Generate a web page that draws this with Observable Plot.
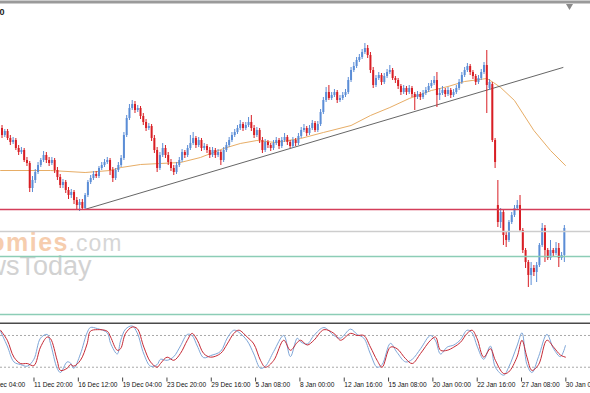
<!DOCTYPE html>
<html><head><meta charset="utf-8">
<script src="https://cdn.jsdelivr.net/npm/d3@7"></script>
<script src="https://cdn.jsdelivr.net/npm/@observablehq/plot@0.6"></script>
<style>
body{margin:0;background:#fff;}
#wrap{position:relative;width:590px;height:393px;overflow:hidden;background:#fff;font-family:"Liberation Sans",Arial,sans-serif;}
#main{position:absolute;left:0;top:0;}
#osc{position:absolute;left:0;top:320px;}
.wm-a text{letter-spacing:1.5px;}
.wm-b text{letter-spacing:1px;}
</style></head><body><div id="wrap"><div id="main"></div><div id="osc"></div></div>
<script>
// bar index 0 = 11 Dec 20:00 (H4 bars)
const firstBar = -11;
const open = [272,265,269,262,258,260,252,248,250,240,237,
212,220,228,235,240,245,240,237,240,230,
223,215,218,210,205,208,200,195,198,192,
205,218,222,226,224,232,235,238,240,230,
222,230,235,242,265,282,292,296,290,292,
284,278,272,274,262,250,232,245,252,245,
238,232,228,235,240,248,245,252,257,262,
255,260,252,254,250,245,250,245,248,240,
250,255,260,265,268,272,276,272,275,278,
272,265,270,260,250,258,255,252,257,260,
254,260,263,258,254,260,257,264,270,272,
267,272,277,270,276,288,300,308,302,305,
308,300,302,305,308,320,330,334,340,343,
348,352,345,330,315,322,325,318,324,328,
330,322,320,314,308,312,308,312,306,303,
306,303,307,310,314,317,320,305,307,310,
306,310,305,308,312,318,325,330,334,328,
324,318,322,328,335,312,316,260,195,178,
188,165,160,178,185,192,195,170,150,138,
125,132,128,135,155,172,150,142,150,147,
152,142,145];
const high = [275,271,271,265,263,262,255,253,252,243,239,
224,231,238,242,249,248,243,243,242,233,
226,221,220,213,211,210,203,201,201,207,
220,225,229,229,234,238,241,243,242,233,
232,238,245,268,285,296,300,299,295,294,
287,281,277,276,265,253,248,257,255,248,
241,235,238,243,251,250,255,265,268,264,
263,262,257,256,253,253,252,251,250,253,
258,263,268,271,275,280,278,278,283,285,
275,273,272,263,261,260,257,260,263,262,
263,267,265,260,263,262,267,273,276,274,
275,280,279,279,291,303,313,315,308,311,
310,305,308,311,323,333,338,343,346,351,
357,355,348,333,325,328,327,327,331,335,
332,324,322,316,315,314,315,314,308,309,
308,310,313,317,320,324,328,312,314,312,
313,312,311,315,321,328,333,337,336,330,
326,325,331,338,350,321,318,262,220,192,
190,168,180,188,195,200,205,172,152,140,
138,135,138,157,177,175,152,160,152,158,
157,148,175];
const low = [262,263,260,255,256,250,245,246,238,234,208,
208,217,226,233,238,237,234,235,227,220,
212,212,207,201,202,196,190,189,190,190,
203,216,220,222,222,230,233,236,225,218,
220,228,233,240,263,280,290,287,288,281,
275,269,270,259,247,228,230,243,242,235,
229,225,226,233,238,242,243,250,255,252,
253,249,250,247,242,243,242,243,235,238,
248,253,258,263,266,270,269,270,273,269,
262,263,257,247,248,252,249,250,255,251,
252,258,255,252,252,254,255,262,268,264,
265,270,268,268,274,286,298,300,300,303,
297,298,300,303,306,318,328,332,338,341,
346,342,327,312,313,320,315,316,322,326,
320,317,311,305,306,305,306,303,290,301,
300,301,305,308,312,315,293,300,305,303,
304,302,303,306,310,316,323,328,325,321,
315,316,320,326,287,310,258,232,173,172,
155,153,158,176,183,190,168,147,132,113,
115,124,118,133,153,138,140,140,144,145,
133,140,138];
const close = [265,269,262,258,260,252,248,250,240,237,212,
220,228,235,240,245,240,237,240,230,223,
215,218,210,205,208,200,195,198,192,205,
218,222,226,224,232,235,238,240,230,222,
230,235,242,265,282,292,296,290,292,284,
278,272,274,262,250,232,245,252,245,238,
232,228,235,240,248,245,252,257,262,255,
260,252,254,250,245,250,245,248,240,250,
255,260,265,268,272,276,272,275,278,272,
265,270,260,250,258,255,252,257,260,254,
260,263,258,254,260,257,264,270,272,267,
272,277,270,276,288,300,308,302,305,308,
300,302,305,308,320,330,334,340,343,348,
352,345,330,315,322,325,318,324,328,330,
322,320,314,308,312,308,312,306,303,306,
303,307,310,314,317,320,305,307,310,306,
310,305,308,312,318,325,330,334,328,324,
318,322,328,335,315,318,260,238,178,188,
165,160,178,185,192,195,170,150,138,125,
132,128,135,155,172,150,142,150,147,152,
142,145,172];

// moving average (sampled)
const maBars = [-11.5,6.5,19,28,32,39,46,53.4,60.6,69,75,81,87.7,96.8,105,115,122,129,136,144,150,156,164,166.4,169,174,181,187,192.4];
const maVals = [230,230,228,230,233,236,237,238,243,252,257,260,258,262,268,275,285,293,302,310,314,319,322,318,313,300,270,250,235];

// trend line endpoints
const trendBars = [18.8, 191.5];
const trendVals = [191, 333];

// horizontal levels
const levelVals = [191, 169, 144, 86];
const levelColors = ["rgb(212,62,90)", "#cdcdcd", "#8ccdb6", "#8ccdb6"];

// stochastic oscillator (sampled)
const stochBars = [-11.55,-9.1,-6.7,-4.3,-1.9,0.5,2.9,5.3,6.5,8.9,10.1,12.5,13.7,14.9,17.3,19.7,20.9,23.4,27,28.2,30.6,31.8,33.6,36,37.8,40.2,42.6,45,46.2,48.6,51,53.4,55.9,57.6,59.5,61.8,64.3,67.9,70.3,72.7,74.5,77.5,79.9,82.3,84.1,87.1,90.7,93.1,95.6,96.8,99.2,101.6,105.2,108.8,111.2,114.8,117.2,119.6,122,124.4,126.2,129.2,131.6,134.7,137.1,140.1,143.7,145.5,147.3,149.7,152.1,154.5,156.9,158.7,160.5,162.9,165.3,167.1,170.1,171.9,174.9,176.7,178.5,180.3,182.7,185.7,188.1,190.6,192.4];
const stochD = [90,71,39,27,27,23,58,77,74,33,14,18,25,22,33,64,88,91,88,77,52,55,84,96,93,58,30,20,27,39,33,46,71,84,71,46,39,46,64,84,90,77,64,33,20,33,71,52,67,71,62,71,91,84,71,84,80,80,58,33,20,58,55,36,27,46,71,77,52,52,58,67,84,90,74,39,55,33,8,11,39,71,39,14,25,71,58,43,39];
const stochK = [88,60,30,25,22,35,75,82,65,18,10,30,28,18,45,85,95,93,85,65,45,70,92,98,85,45,22,25,35,33,40,60,82,80,60,38,42,50,75,90,86,70,45,18,22,50,80,40,75,68,64,80,95,80,75,92,82,75,45,20,25,65,48,30,35,55,80,70,45,58,62,72,90,85,60,35,60,20,5,20,60,85,25,10,40,82,55,40,61];
const stochLevels = [20, 80];

// time axis
const tickBars = [-16,0,16,32,48,64,80,96,112,128,144,160,176,192];
const tickLabels = ["9 Dec 04:00","11 Dec 20:00","16 Dec 12:00","19 Dec 04:00","23 Dec 20:00","29 Dec 16:00","5 Jan 08:00","8 Jan 00:00","12 Jan 16:00","15 Jan 08:00","20 Jan 00:00","22 Jan 16:00","27 Jan 08:00","30 Jan 00:00"];

const watermark = ["Economies", ".com", "NewsToday"];

const bars = open.map((o, k) => ({i: firstBar + k, o, h: high[k], l: low[k], c: close[k]}));
const ma = maBars.map((i, k) => ({i, v: maVals[k]}));
const trend = trendBars.map((i, k) => ({i, v: trendVals[k]}));
const dLine = stochBars.map((i, k) => ({i, v: stochD[k]}));
const kLine = stochBars.map((i, k) => ({i, v: stochK[k]}));

const UP = "#5b8dd6", DN = "#d81e24";
const upBars = bars.filter(d => d.c >= d.o);
const dnBars = bars.filter(d => d.c < d.o);
const xDom = [-11.55, 201.44];
const font = "Liberation Sans, Arial, sans-serif";

const candleMarks = (data, color) => [
  Plot.ruleX(data, {x: "i", y1: "l", y2: "h", stroke: color, strokeWidth: 1}),
  Plot.ruleX(data, {x: "i", y1: "o", y2: "c", stroke: color, strokeWidth: 2})
];

const main = Plot.plot({
  width: 590, height: 320,
  marginTop: 1.5, marginBottom: 0, marginLeft: 0, marginRight: 0,
  x: {domain: xDom, range: [0, 590], axis: null},
  y: {domain: [80, 400], range: [320, 0], axis: null},
  style: {background: "transparent", fontFamily: font, overflow: "hidden"},
  marks: [
    Plot.text([watermark[0]], {frameAnchor: "top-left", dx: 68.5, dy: 249, textAnchor: "end", lineAnchor: "bottom", fontSize: 25, fontWeight: "bold", fill: "#f6cdae", text: d => d, className: "wm-a"}),
    Plot.text([watermark[1]], {frameAnchor: "top-left", dx: 68, dy: 249, textAnchor: "start", lineAnchor: "bottom", fontSize: 23, fill: "#d6d6d6", text: d => d, className: "wm-b"}),
    Plot.text([watermark[2]], {frameAnchor: "top-left", dx: 91, dy: 273, textAnchor: "end", lineAnchor: "bottom", fontSize: 27, fill: "#d2d2d2", text: d => d}),
    Plot.line(ma, {x: "i", y: "v", stroke: "#e7ad66", strokeWidth: 1}),
    Plot.line(trend, {x: "i", y: "v", stroke: "#555", strokeWidth: 0.9}),
    ...candleMarks(upBars, UP),
    ...candleMarks(dnBars, DN),
    ...levelVals.map((v, k) => Plot.ruleY([v], {stroke: levelColors[k], strokeWidth: 1.3})),
    Plot.frame({anchor: "top", stroke: "#9a9a9a", strokeWidth: 3}),
    Plot.dot([0], {frameAnchor: "top-left", dx: 569, dy: 4, symbol: "triangle", r: 2.6, fill: "#8a8a8a", stroke: "none", rotate: 180}),
    Plot.text(["0"], {frameAnchor: "top-left", dx: -1, dy: 7, textAnchor: "start", fontSize: 9, fontWeight: "bold", fill: "#222", text: d => d})
  ]
});
document.getElementById("main").appendChild(main);

const osc = Plot.plot({
  width: 590, height: 73,
  marginTop: 2.8, marginBottom: 15.5, marginLeft: 0, marginRight: 0,
  x: {domain: xDom, range: [0, 590], axis: null},
  y: {domain: [0, 100], range: [57.3, 4.4], axis: null},
  style: {background: "transparent", fontFamily: font},
  marks: [
    Plot.frame({anchor: "top", stroke: "#4a4a4a", strokeWidth: 1.5}),
    Plot.ruleY(stochLevels, {stroke: "#a8a8a8", strokeDasharray: "2,2"}),
    Plot.line(kLine, {x: "i", y: "v", stroke: "#7ea6d8", strokeWidth: 1, curve: "catmull-rom"}),
    Plot.line(dLine, {x: "i", y: "v", stroke: "#c62a36", strokeWidth: 1, curve: "catmull-rom"}),
    Plot.axisX({ticks: tickBars, tickFormat: d => tickLabels[tickBars.indexOf(d)], tickSize: 4, tickPadding: 0, textAnchor: "start", dx: 1.5, fontSize: 6.6, label: null, stroke: "#444", fill: "#111"})
  ]
});
document.getElementById("osc").appendChild(osc);
</script>
</body></html>
